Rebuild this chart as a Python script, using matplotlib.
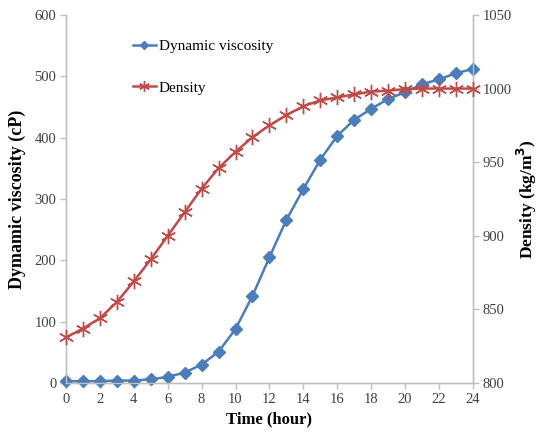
import matplotlib.pyplot as plt

plt.rcParams['font.family'] = ['Liberation Serif', 'DejaVu Serif']

# data
time_h = list(range(0, 25))
viscosity = [3, 3, 3, 4, 4, 6, 10, 17, 30, 51, 88, 142, 205, 266, 316, 364,
             403, 429, 447, 463, 474, 487, 495, 505, 512]
density = [831, 837, 844, 855, 869, 884, 900, 916, 932, 946, 957, 967, 975,
           982, 988, 992, 994, 996, 998, 998.5, 999.7, 1000, 1000, 1000, 1000]

blue = '#4a7ebb'
red = '#be4b48'
gray = '#bfbfbf'

fig = plt.figure(figsize=(5.41, 4.34), dpi=100)
ax = fig.add_axes([0.122, 0.1175, 0.752, 0.848])
ax2 = ax.twinx()

l1, = ax.plot(time_h, viscosity, color=blue, lw=1.8, marker='D', ms=6,
              clip_on=False, zorder=3, label='Dynamic viscosity')
l2, = ax2.plot(time_h, density, color=red, lw=1.8, marker=(6, 2, 0), ms=11,
               mew=1.0, clip_on=False, zorder=3, label='Density')

ax.set_xlim(0, 24)
ax.set_ylim(0, 600)
ax2.set_ylim(800, 1050)
ax.set_xticks(range(0, 25, 2))
ax.set_yticks(range(0, 601, 100))
ax2.set_yticks(range(800, 1051, 50))

for a in (ax, ax2):
    a.spines['top'].set_visible(False)
    for s in ('left', 'right', 'bottom'):
        a.spines[s].set_color(gray)
        a.spines[s].set_linewidth(1.0)
    a.tick_params(colors='#404040', labelsize=10.5, length=4, width=1,
                  direction='out', pad=3)
    a.tick_params(axis='both', color=gray)

ax.set_xlabel('Time (hour)', fontsize=12, fontweight='bold', labelpad=4)
# the reference spells it "Dymamic"
ax.set_ylabel('Dymamic viscosity (cP)', fontsize=13, fontweight='bold', labelpad=6)
ax2.set_ylabel('Density (kg/m$^\\mathbf{3}$)', fontsize=12.5, fontweight='bold',
               labelpad=2)

ax.legend(handles=[l1, l2], loc='upper left', bbox_to_anchor=(0.13, 0.97),
          frameon=False, fontsize=11, labelspacing=1.8, handlelength=1.5,
          handletextpad=0.2, markerscale=0.7)

fig.savefig('out.png', dpi=100)
